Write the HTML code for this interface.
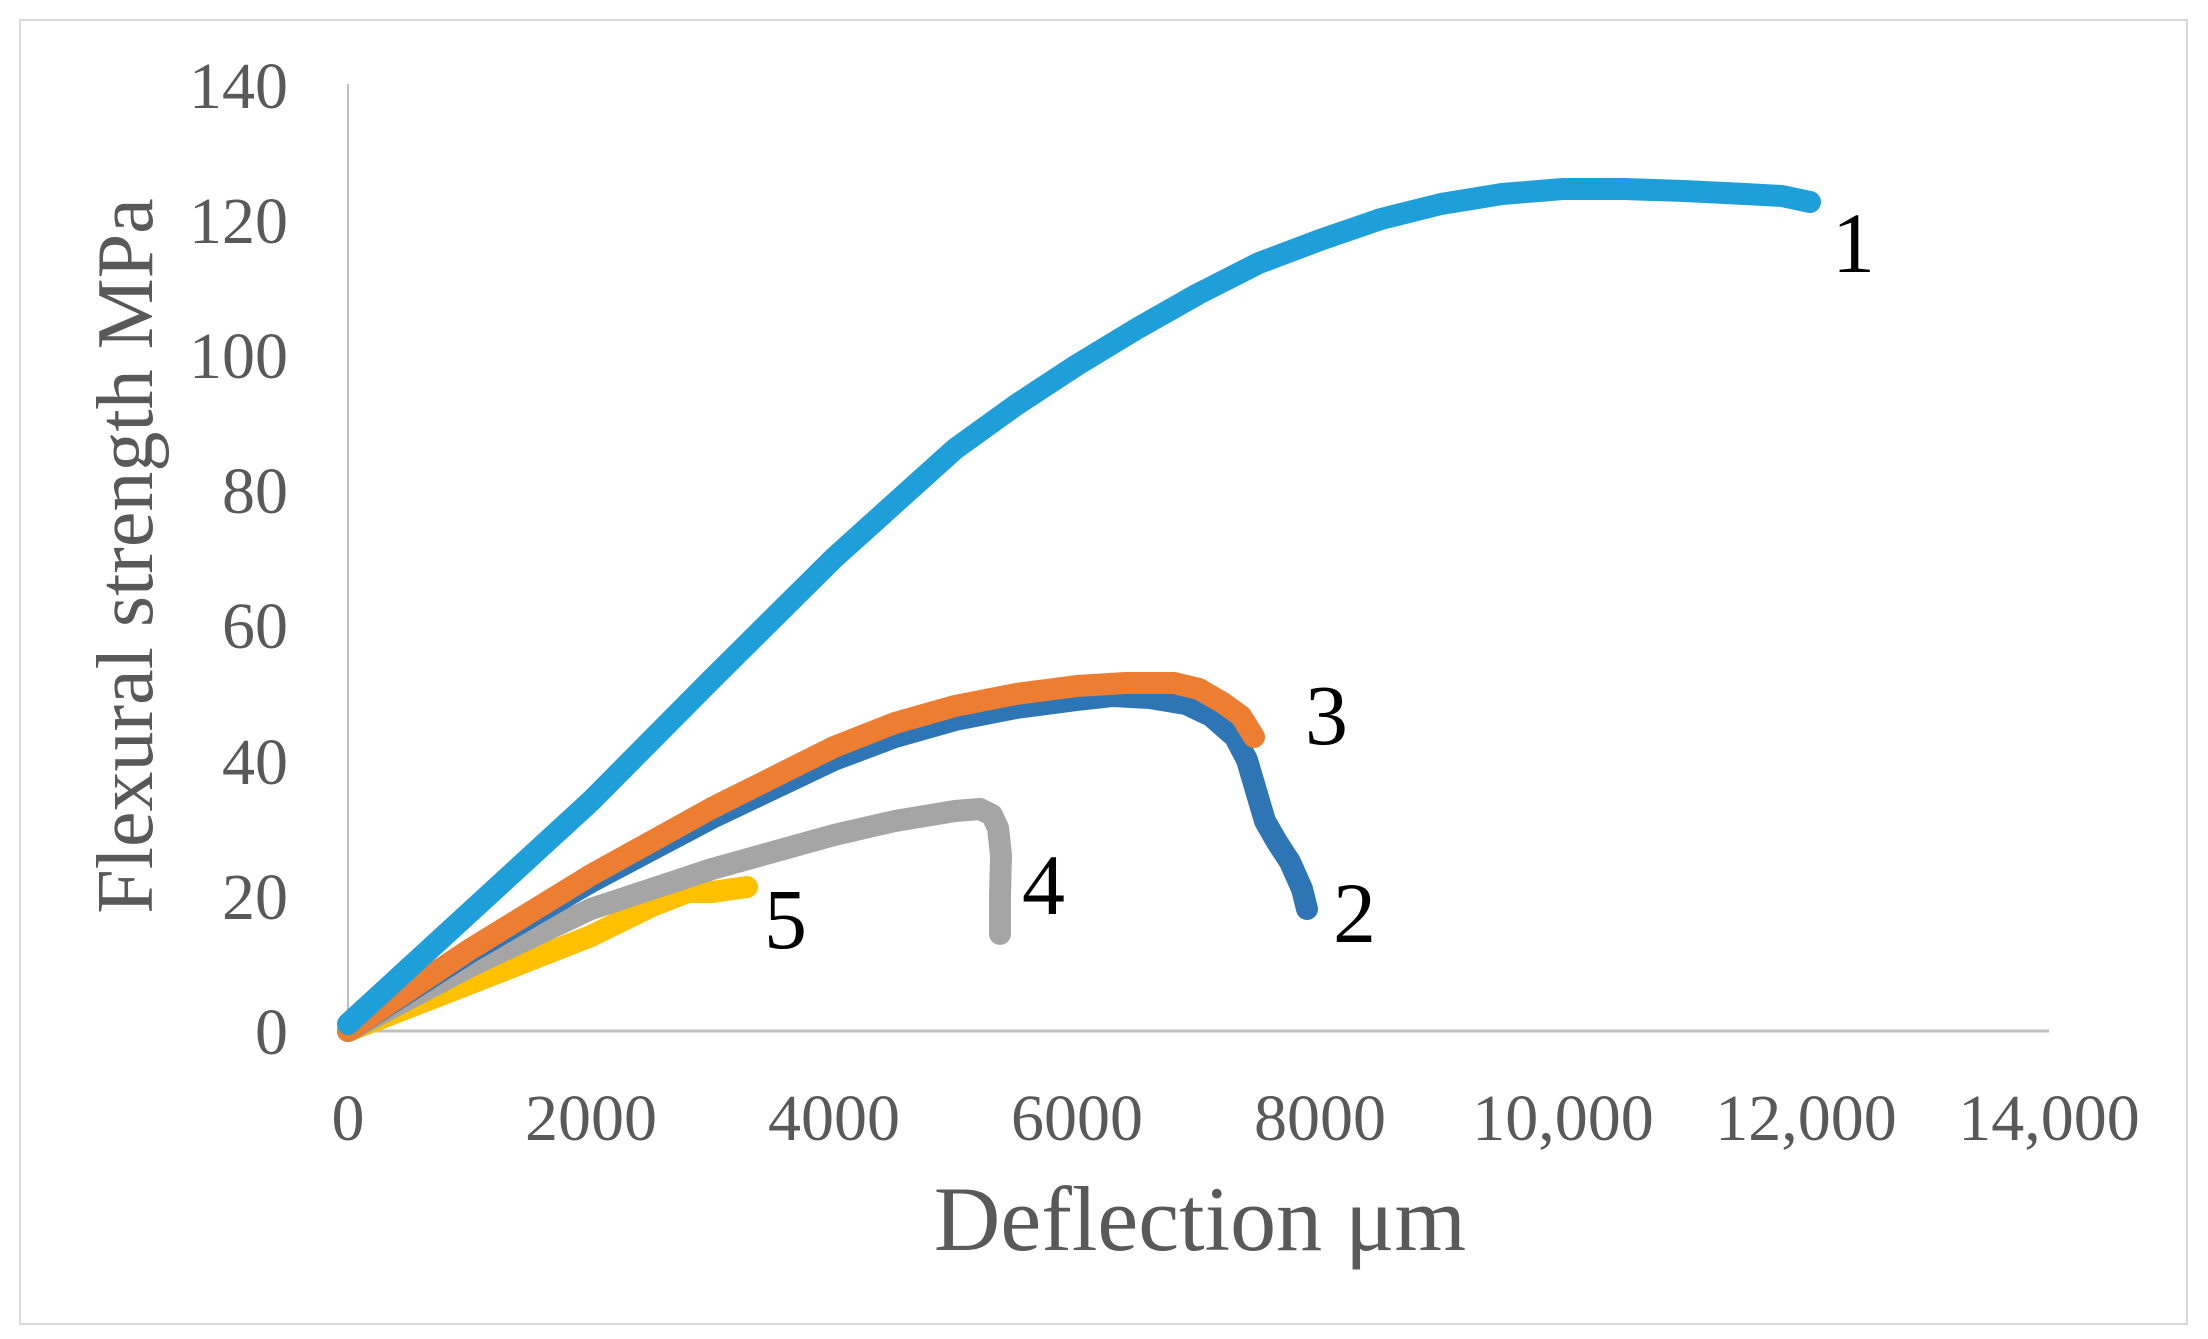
<!DOCTYPE html>
<html><head><style>
html,body{margin:0;padding:0;background:#fff;}
svg{display:block;}
</style></head><body>
<svg width="2208" height="1339" viewBox="0 0 2208 1339" xmlns="http://www.w3.org/2000/svg">
<rect x="20" y="20" width="2167" height="1304" fill="#fff" stroke="#d9d9d9" stroke-width="2"/>
<line x1="348" y1="84" x2="348" y2="1031" stroke="#bfbfbf" stroke-width="2"/>
<line x1="348" y1="1031" x2="2049" y2="1031" stroke="#bfbfbf" stroke-width="3"/>
<g font-family="Liberation Serif, serif" fill="#595959" font-size="66" text-anchor="end">
<text x="288" y="1054">0</text>
<text x="288" y="919">20</text>
<text x="288" y="784">40</text>
<text x="288" y="648">60</text>
<text x="288" y="513">80</text>
<text x="288" y="378">100</text>
<text x="288" y="243">120</text>
<text x="288" y="108">140</text>
</g>
<g font-family="Liberation Serif, serif" fill="#595959" font-size="66" text-anchor="middle">
<text x="348" y="1140">0</text>
<text x="591" y="1140">2000</text>
<text x="834" y="1140">4000</text>
<text x="1077" y="1140">6000</text>
<text x="1320" y="1140">8000</text>
<text x="1563" y="1140">10,000</text>
<text x="1806" y="1140">12,000</text>
<text x="2049" y="1140">14,000</text>
<text x="1200" y="1250" font-size="92">Deflection  μm</text>
<text transform="translate(152,556) rotate(-90)" font-size="80">Flexural strength MPa</text>
</g>
<g fill="none" stroke-width="22" stroke-linecap="round" stroke-linejoin="round">
<polyline stroke="#FFC000" points="348,1031 469,984 591,936 652,906 688,892 712,892 747,887"/>
<polyline stroke="#A5A5A5" points="348,1031 469,967 591,909 712,869 834,835 895,821 955,811 980,809 992,815 998,828 1001,855 1000,896 1000,934"/>
<polyline stroke="#2E75B6" points="348,1031 469,953 591,882 712,818 834,760 895,737 955,720 1016,708 1077,700 1113,696 1150,698 1186,704 1211,716 1235,737 1247,760 1257,794 1265,821 1277,842 1290,862 1302,889 1307,909"/>
<polyline stroke="#ED7D31" points="348,1031 469,950 591,875 712,808 834,747 895,723 955,706 1016,694 1077,686 1126,683 1174,683 1199,689 1223,703 1241,716 1254,737"/>
<polyline stroke="#1F9FDA" points="348,1024 469,913 591,801 712,679 834,558 895,503 955,449 1016,405 1077,365 1138,328 1198,294 1259,263 1320,240 1381,219 1441,204 1502,194 1563,189 1624,189 1684,191 1745,194 1782,196 1810,202"/>
</g>
<g font-family="Liberation Serif, serif" fill="#000" font-size="86">
<text x="1832" y="272">1</text>
<text x="1333" y="942">2</text>
<text x="1305" y="744">3</text>
<text x="1022" y="914">4</text>
<text x="764" y="948">5</text>
</g>
</svg>
</body></html>
